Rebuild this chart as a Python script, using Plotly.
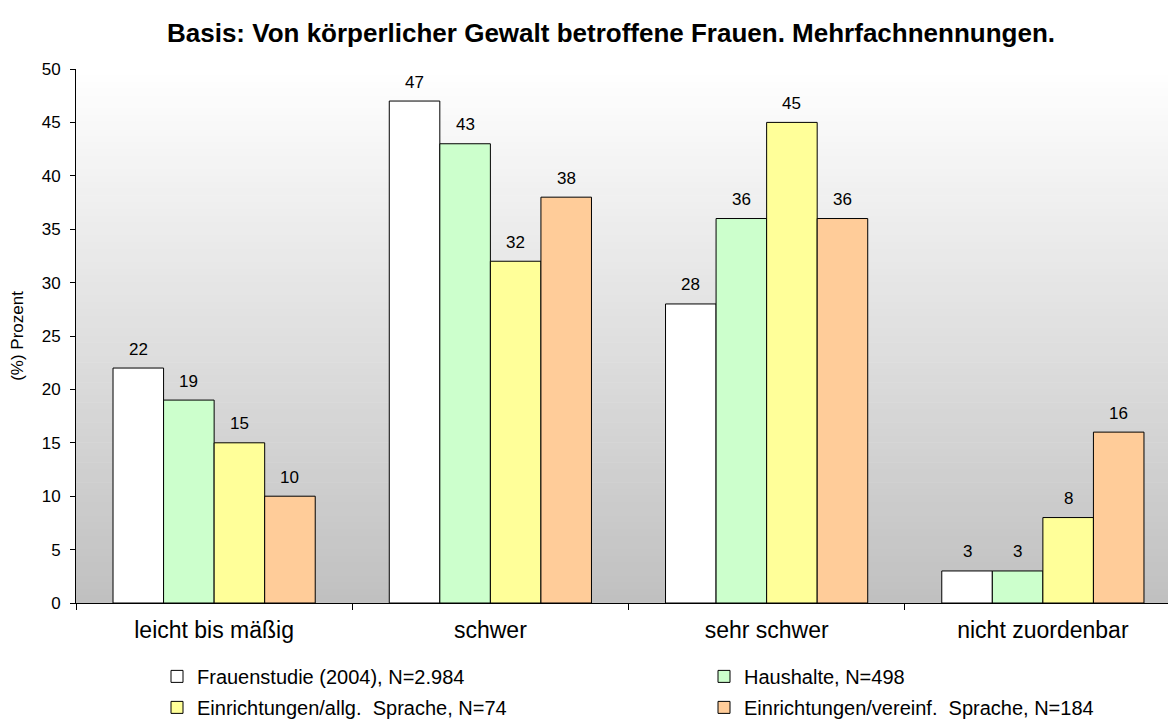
import plotly.graph_objects as go

categories = ["leicht bis mäßig", "schwer", "sehr schwer", "nicht zuordenbar"]
series_names = [
    "Frauenstudie (2004), N=2.984",
    "Haushalte, N=498",
    "Einrichtungen/allg.  Sprache, N=74",
    "Einrichtungen/vereinf.  Sprache, N=184",
]
frauenstudie = [22, 47, 28, 3]
haushalte = [19, 43, 36, 3]
einr_allg = [15, 32, 45, 8]
einr_vereinf = [10, 38, 36, 16]
series_values = [frauenstudie, haushalte, einr_allg, einr_vereinf]
colors = ["#FFFFFF", "#CCFFCC", "#FFFF99", "#FFCC99"]
legend_ids = ["legend", "legend2", "legend", "legend2"]
y_ticks = [0, 5, 10, 15, 20, 25, 30, 35, 40, 45, 50]

FONT = "Arial, 'Liberation Sans', sans-serif"
W, H = 1176, 722
ML, MR, MT, MB = 68, 3, 61, 116
BARGAP = 0.268

fig = go.Figure()
for i, (name, vals) in enumerate(zip(series_names, series_values)):
    fig.add_trace(go.Bar(
        x=categories, y=vals, name=name,
        marker=dict(color=colors[i], line=dict(color="#000000", width=1)),
        legend=legend_ids[i], legendgroup=f"g{i}",
        hoverinfo="x+y+name",
    ))

# value labels above bars
plot_w = W - ML - MR
plot_h = H - MT - MB
cat_w = plot_w / len(categories)
bar_w = cat_w * (1 - BARGAP) / len(series_values)
annotations = []
for i, vals in enumerate(series_values):
    for c, v in zip(categories, vals):
        annotations.append(dict(
            x=c, y=v, xref="x", yref="y", text=str(v), showarrow=False,
            xshift=(i - (len(series_values) - 1) / 2) * bar_w,
            yshift=19, yanchor="middle",
            font=dict(family=FONT, size=17, color="#000000"),
        ))

# vertical gradient background for plot area (white -> gray)
shapes = []
n_bands = 80
for k in range(n_bands):
    t = (k + 0.5) / n_bands
    g = round(255 - (255 - 192) * t)
    shapes.append(dict(
        type="rect", xref="x domain", yref="y domain",
        x0=0, x1=1, y0=1 - (k + 1) / n_bands, y1=1 - k / n_bands + 0.001,
        fillcolor=f"rgb({g},{g},{g})", line=dict(width=0), layer="below",
    ))

legend_font = dict(family=FONT, size=20, color="#000000")
legend_y = (H - MB - 661) / plot_h

fig.update_layout(
    width=W, height=H,
    margin=dict(l=ML, r=MR, t=MT, b=MB),
    paper_bgcolor="#FFFFFF", plot_bgcolor="rgba(0,0,0,0)",
    barmode="group", bargap=BARGAP, bargroupgap=0,
    title=dict(
        text="<b>Basis: Von körperlicher Gewalt betroffene Frauen. Mehrfachnennungen.</b>",
        x=603 / W, xanchor="center", y=1 - 25 / H, yanchor="middle",
        font=dict(family=FONT, size=26, color="#000000"),
    ),
    font=dict(family=FONT, color="#000000"),
    shapes=shapes,
    annotations=annotations,
    showlegend=True,
    legend=dict(
        x=(149 - ML) / plot_w, xanchor="left", y=legend_y, yanchor="top",
        orientation="v", font=legend_font,
        bgcolor="rgba(0,0,0,0)", tracegroupgap=2, traceorder="grouped",
    ),
    legend2=dict(
        x=(696 - ML) / plot_w, xanchor="left", y=legend_y, yanchor="top",
        orientation="v", font=legend_font,
        bgcolor="rgba(0,0,0,0)", tracegroupgap=2, traceorder="grouped",
    ),
    xaxis=dict(
        type="category", showline=True, linecolor="#000000", linewidth=1,
        ticks="outside", tickson="boundaries", ticklen=6, tickcolor="#000000",
        tickfont=dict(family=FONT, size=23, color="#000000"),
        ticklabelstandoff=6, showgrid=False, zeroline=False, fixedrange=True,
    ),
    yaxis=dict(
        range=[0, 50], tickvals=y_ticks, showline=True, linecolor="#000000", linewidth=1,
        ticks="outside", ticklen=5, tickcolor="#000000",
        tickfont=dict(family=FONT, size=17, color="#000000"),
        ticklabelstandoff=6, showgrid=False, zeroline=False,
        title=dict(text="(%) Prozent", font=dict(family=FONT, size=17, color="#000000"), standoff=14),
    ),
)

fig.write_html("out.html")
